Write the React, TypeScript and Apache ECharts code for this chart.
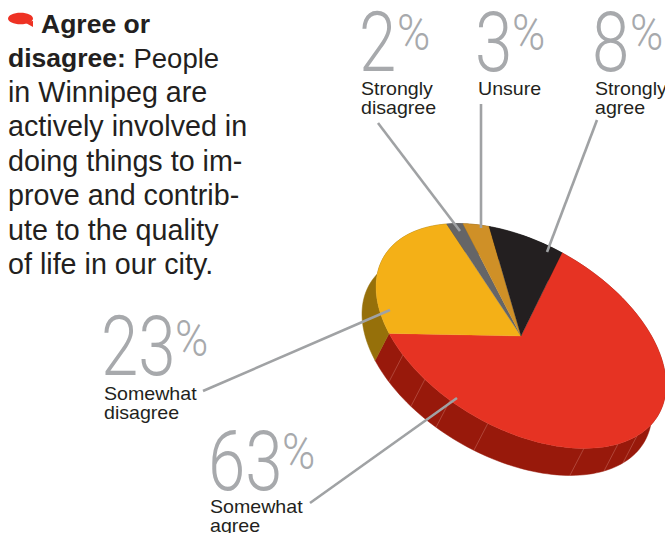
import React, { useEffect, useRef } from "react";
import * as echarts from "echarts";

const categories = ["Strongly agree", "Somewhat agree", "Somewhat disagree", "Strongly disagree", "Unsure"];
const sliceValues = [63, 23, 2, 3, 8];
const sliceColors = ["#e63323", "#f4b017", "#656567", "#cf9027", "#231f20"];
const wallColors = ["#98190b", "#96700a", "#444", "#7a5510", "#111"];

const introLines = [
  "in Winnipeg are",
  "actively involved in",
  "doing things to im-",
  "prove and contrib-",
  "ute to the quality",
  "of life in our city.",
];

const labelLayout = [
  { value: 2, lines: ["Strongly", "disagree"], x: 359, base: 77, pct: 397, pctBase: 47, lx: 361, ly: 89, from: [378, 123], to: [460, 231] },
  { value: 3, lines: ["Unsure"], x: 475, base: 77, pct: 512, pctBase: 47, lx: 478, ly: 89, from: [481, 104], to: [481, 228] },
  { value: 8, lines: ["Strongly", "agree"], x: 592, base: 77, pct: 630, pctBase: 47, lx: 595, ly: 89, from: [597, 120], to: [547, 252] },
  { value: 23, lines: ["Somewhat", "disagree"], x: 101, base: 381, pct: 175, pctBase: 353, lx: 104, ly: 394, from: [203, 391], to: [390, 310] },
  { value: 63, lines: ["Somewhat", "agree"], x: 208, base: 496, pct: 282, pctBase: 466, lx: 210, ly: 507, from: [310, 503], to: [457, 398] },
];

const seamAngles = [144.5, 131.5, 119.3, 103.2, 64.3, 48, 36.9];

const CX = 521, CY = 336, HX = 145, SKEW = 49, HY = 101.2, DX = -14, DY = 27;
const START = -73.6;
const total = sliceValues.reduce((a, b) => a + b, 0);

const rim = (deg: number) => {
  const t = (deg * Math.PI) / 180;
  return [CX + HX * Math.cos(t), CY + SKEW * Math.cos(t) + HY * Math.sin(t)];
};
const arc = (a: number, b: number) => {
  const n = Math.max(2, Math.ceil(Math.abs(b - a) / 2));
  const pts: number[][] = [];
  for (let i = 0; i <= n; i++) pts.push(rim(a + ((b - a) * i) / n));
  return pts;
};
const range = (i: number) => {
  const before = sliceValues.slice(0, i).reduce((a, b) => a + b, 0);
  const a = START + (before / total) * 360;
  return [a, a + (sliceValues[i] / total) * 360];
};

const SANS = '"Liberation Sans", Arial, sans-serif';
const THIN = 'Roboto, "Liberation Sans", sans-serif';
const GREY = "#a7a9ac";
const INK = "#231f20";

export default function App() {
  const ref = useRef<HTMLDivElement>(null);
  useEffect(() => {
    document.body.style.margin = "0";
    document.body.style.overflow = "hidden";
    const chart = echarts.init(ref.current!, undefined, { renderer: "svg" });
    const graphic: any[] = [];
    graphic.push({ type: "ellipse", shape: { cx: 20.5, cy: 18.5, rx: 12.5, ry: 5.8 }, style: { fill: "#ee3224" } });
    graphic.push({ type: "polygon", shape: { points: [[24, 22], [33, 21], [33, 27]] }, style: { fill: "#ee3224" } });
    graphic.push({
      type: "text", x: 41, y: 24,
      style: { text: "Agree or", font: `bold 26.5px ${SANS}`, fill: INK, verticalAlign: "middle" },
    });
    graphic.push({
      type: "text", x: 8, y: 58,
      style: {
        text: "{b|disagree:}{n| People}", verticalAlign: "middle",
        rich: {
          b: { font: `bold 26.5px ${SANS}`, fill: INK },
          n: { font: `27.5px ${SANS}`, fill: INK },
        },
      },
    });
    introLines.forEach((line, i) => {
      graphic.push({
        type: "text", x: 8, y: 92 + i * 34.4,
        style: { text: line, font: `28.7px ${SANS}`, fill: INK, verticalAlign: "middle" },
      });
    });
    labelLayout.forEach((l) => {
      graphic.push({
        type: "line", z: 20,
        shape: { x1: l.from[0], y1: l.from[1], x2: l.to[0], y2: l.to[1] },
        style: { stroke: "#a0a2a4", lineWidth: 2.6 },
      });
      graphic.push({
        type: "text", x: l.x, y: l.base, scaleX: 0.8,
        style: { text: String(l.value), font: `300 84px ${THIN}`, fill: GREY, verticalAlign: "bottom", lineHeight: 70 },
      });
      graphic.push({
        type: "text", x: l.pct, y: l.pctBase + 8, scaleX: 0.9,
        style: { text: "%", font: `300 50px ${THIN}`, fill: GREY, verticalAlign: "bottom", lineHeight: 44 },
      });
      l.lines.forEach((t, i) => {
        graphic.push({
          type: "text", x: l.lx, y: l.ly + i * 19, scaleX: 1.06,
          style: { text: t, font: `18.5px ${SANS}`, fill: INK, verticalAlign: "middle", lineHeight: 18 },
        });
      });
    });

    const wallSeries = {
      type: "custom", coordinateSystem: "none", silent: true, z: 2,
      data: sliceValues.map((v, i) => [v, i]),
      renderItem: (_: any, api: any) => {
        const i = api.value(1);
        const [a, b] = range(i);
        const top = arc(a, b);
        const bottom = top.slice().reverse().map((p) => [p[0] + DX, p[1] + DY]);
        return {
          type: "polygon",
          shape: { points: top.concat(bottom) },
          style: { fill: wallColors[i], stroke: wallColors[i], lineWidth: 0.5 },
        };
      },
    };
    const seamSeries = {
      type: "custom", coordinateSystem: "none", silent: true, z: 3,
      data: seamAngles.map((a) => [a]),
      renderItem: (_: any, api: any) => {
        const p = rim(api.value(0));
        return {
          type: "line",
          shape: { x1: p[0], y1: p[1], x2: p[0] + DX, y2: p[1] + DY },
          style: { stroke: "rgba(255,210,200,0.4)", lineWidth: 0.6 },
        };
      },
    };
    const topSeries = {
      type: "custom", coordinateSystem: "none", silent: true, z: 4,
      data: sliceValues.map((v, i) => [v, i]),
      renderItem: (_: any, api: any) => {
        const i = api.value(1);
        const [a, b] = range(i);
        return {
          type: "polygon",
          shape: { points: [[CX, CY] as number[]].concat(arc(a, b)) },
          style: { fill: sliceColors[i], stroke: sliceColors[i], lineWidth: 0.3 },
        };
      },
    };
    chart.setOption({
      animation: false,
      backgroundColor: "#ffffff",
      graphic: { elements: graphic },
      series: [wallSeries, seamSeries, topSeries],
    });
    return () => chart.dispose();
  }, []);
  return <div ref={ref} aria-label={categories.join(", ")} style={{ position: "absolute", left: 0, top: 0, width: 665, height: 533 }} />;
}
